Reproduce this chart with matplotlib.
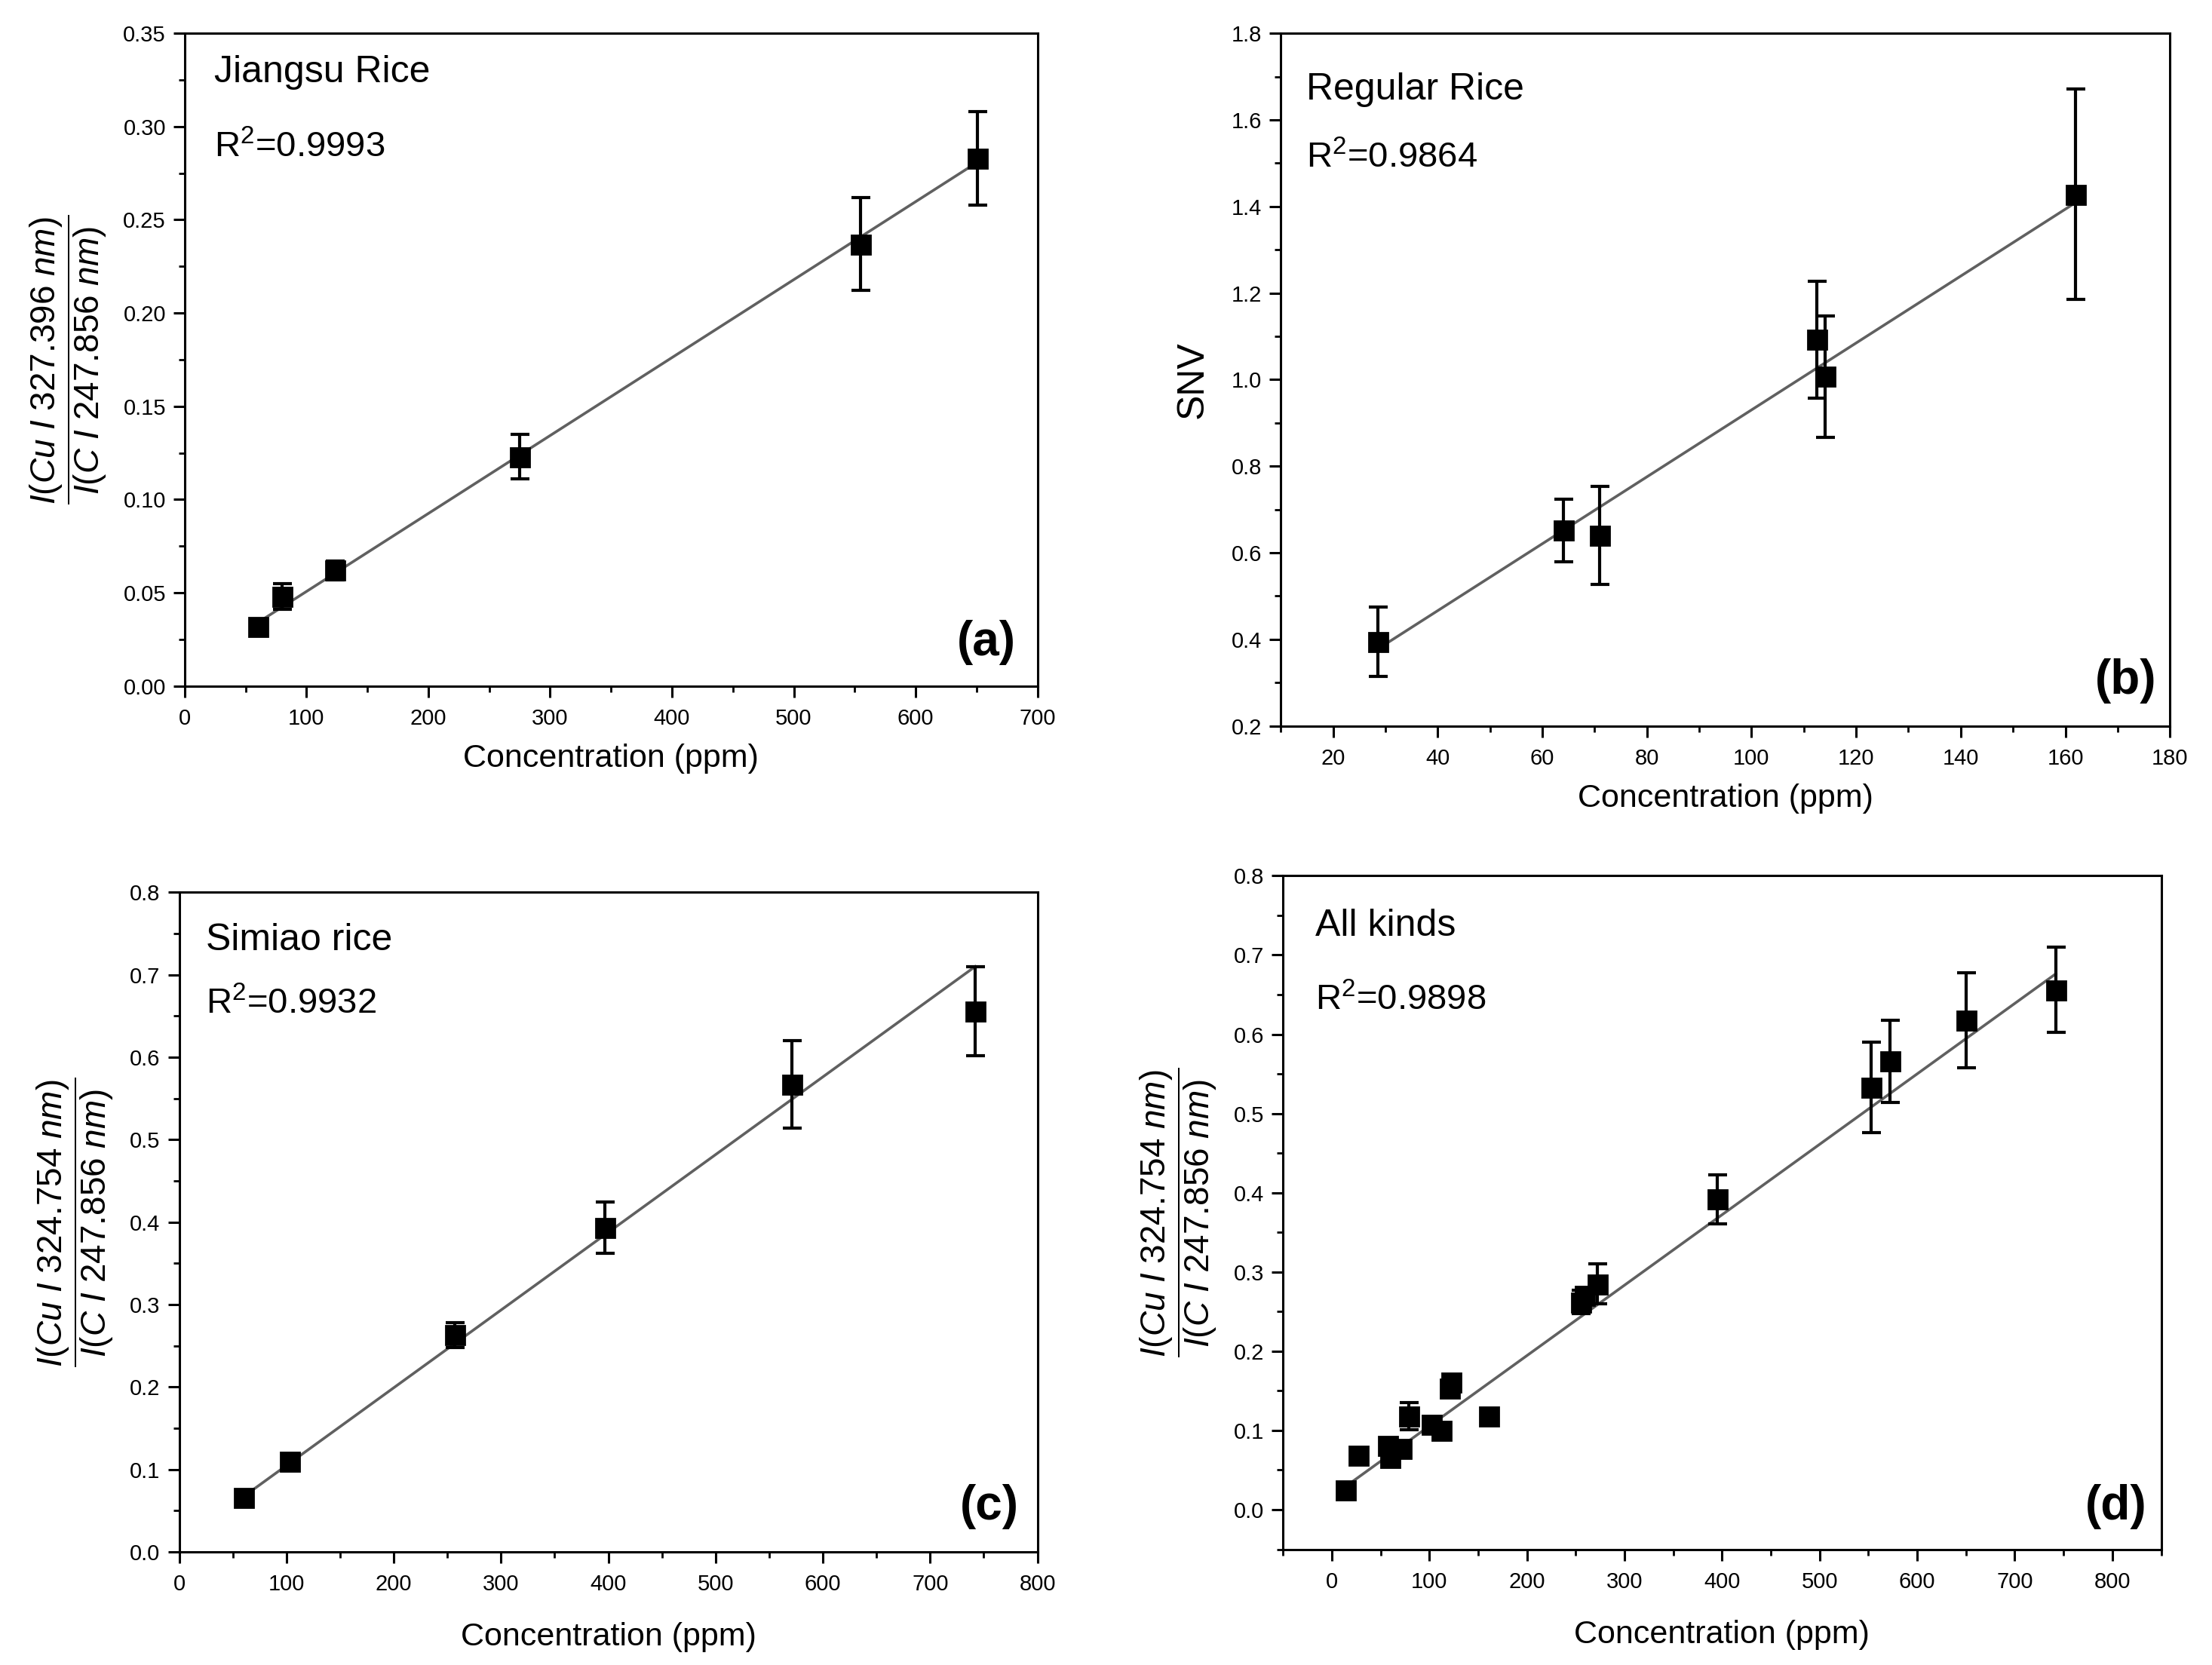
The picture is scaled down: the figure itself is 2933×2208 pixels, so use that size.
import numpy as np
import matplotlib
matplotlib.use('Agg')
import matplotlib.pyplot as plt
from matplotlib.ticker import MultipleLocator, FormatStrFormatter

plt.rcParams['font.family'] = ['Liberation Sans', 'DejaVu Sans']
plt.rcParams['mathtext.fontset'] = 'custom'
plt.rcParams['mathtext.rm'] = 'Liberation Sans'
plt.rcParams['mathtext.it'] = 'Liberation Sans:italic'
plt.rcParams['mathtext.bf'] = 'Liberation Sans:bold'

# (a) Jiangsu rice
conc_a = [60, 80, 123, 275, 555, 651]
ratio_a = [0.032, 0.048, 0.062, 0.123, 0.237, 0.283]
err_a = [0.003, 0.007, 0.005, 0.012, 0.025, 0.025]
fit_a = (0.000418, 0.0089)

# (b) regular rice
conc_b = [28.5, 64, 71, 112.5, 114, 162]
snv_b = [0.395, 0.652, 0.640, 1.093, 1.007, 1.428]
err_b = [0.080, 0.072, 0.113, 0.135, 0.140, 0.243]
fit_b = (0.00773, 0.157)

# (c) Simiao rice
conc_c = [60, 103, 257, 397, 571, 742]
ratio_c = [0.066, 0.110, 0.263, 0.393, 0.567, 0.656]
err_c = [0.004, 0.005, 0.015, 0.031, 0.053, 0.054]
fit_c = (0.000943, 0.0104)

# (d) all kinds
conc_d = [14, 27, 57, 60, 71, 79, 102, 112, 121, 122, 161, 255, 259, 272, 395, 553, 572, 650, 742]
ratio_d = [0.025, 0.069, 0.081, 0.066, 0.077, 0.118, 0.108, 0.100, 0.153, 0.161, 0.118,
           0.262, 0.270, 0.285, 0.392, 0.533, 0.566, 0.618, 0.656]
err_d = [0.003, 0.004, 0.005, 0.005, 0.004, 0.017, 0.004, 0.004, 0.005, 0.005, 0.006,
         0.015, 0.006, 0.025, 0.031, 0.057, 0.052, 0.060, 0.054]
fit_d = (0.000889, 0.0166)

ylab_a = r'$\dfrac{\mathit{I(Cu\ I\ 327.396\ nm)}}{\mathit{I(C\ I\ 247.856\ nm)}}$'
ylab_c = r'$\dfrac{\mathit{I(Cu\ I\ 324.754\ nm)}}{\mathit{I(C\ I\ 247.856\ nm)}}$'

fig = plt.figure(figsize=(14.665, 11.04), dpi=200)

panels = [
    dict(rect=[0.0835, 0.588, 0.3855, 0.392], x=conc_a, y=ratio_a, e=err_a, fit=fit_a,
         xlim=(0, 700), ylim=(0, 0.35), xmaj=100, xmin=50, ymaj=0.05, ymin=0.025, yfmt='%.2f',
         name='Jiangsu Rice', r2='0.9993', tag='(a)', ylabel=ylab_a, xpad=7,
         tpos=(0.035, 0.94, 0.825, 0.975, 0.067)),
    dict(rect=[0.579, 0.564, 0.402, 0.416], x=conc_b, y=snv_b, e=err_b, fit=fit_b,
         xlim=(10, 180), ylim=(0.2, 1.8), xmaj=20, xmin=10, ymaj=0.2, ymin=0.1, yfmt='%.1f',
         name='Regular Rice', r2='0.9864', tag='(b)', ylabel='SNV', xpad=7,
         tpos=(0.029, 0.918, 0.82, 0.985, 0.065)),
    dict(rect=[0.081, 0.068, 0.388, 0.396], x=conc_c, y=ratio_c, e=err_c, fit=fit_c,
         xlim=(0, 800), ylim=(0, 0.8), xmaj=100, xmin=50, ymaj=0.1, ymin=0.05, yfmt='%.1f',
         name='Simiao rice', r2='0.9932', tag='(c)', ylabel=ylab_c, xpad=13,
         tpos=(0.031, 0.927, 0.83, 0.978, 0.069)),
    dict(rect=[0.580, 0.0695, 0.397, 0.4045], x=conc_d, y=ratio_d, e=err_d, fit=fit_d,
         xlim=(-50, 850), ylim=(-0.05, 0.8), xmaj=100, xmin=50, ymaj=0.1, ymin=0.05, yfmt='%.1f',
         name='All kinds', r2='0.9898', tag='(d)', ylabel=ylab_c, xpad=13,
         tpos=(0.037, 0.925, 0.815, 0.984, 0.063)),
]

for p in panels:
    ax = fig.add_axes(p['rect'])
    x = np.array(p['x'])
    xs = np.array([x.min(), x.max()])
    slope, icpt = p['fit']
    ax.plot(xs, slope * xs + icpt, color='#606060', lw=1.3, zorder=2)
    ax.errorbar(x, p['y'], yerr=p['e'], fmt='s', color='black', ms=9,
                ecolor='black', elinewidth=1.5, capsize=4.5, capthick=1.5, zorder=3)
    ax.set_xlim(*p['xlim'])
    ax.set_ylim(*p['ylim'])
    ax.xaxis.set_major_locator(MultipleLocator(p['xmaj']))
    ax.xaxis.set_minor_locator(MultipleLocator(p['xmin']))
    ax.yaxis.set_major_locator(MultipleLocator(p['ymaj']))
    ax.yaxis.set_minor_locator(MultipleLocator(p['ymin']))
    ax.yaxis.set_major_formatter(FormatStrFormatter(p['yfmt']))
    if p['tag'] == '(d)':
        ax.set_yticks(np.arange(0, 0.81, 0.1))
    ax.tick_params(which='both', direction='out', top=False, right=False, labelsize=10.5)
    ax.tick_params(axis='x', which='major', pad=5)
    ax.tick_params(which='major', length=5.5, width=1.1)
    ax.tick_params(which='minor', length=3, width=1.0)
    for s in ax.spines.values():
        s.set_linewidth(1.1)
    ax.set_xlabel('Concentration (ppm)', fontsize=15.5, labelpad=p['xpad'])
    if p['ylabel'] == 'SNV':
        ax.set_ylabel(p['ylabel'], fontsize=18, labelpad=10)
    else:
        ax.set_ylabel(p['ylabel'], fontsize=16.5, labelpad=7)
    tx, ty1, ty2, bx, by = p['tpos']
    ax.text(tx, ty1, p['name'], transform=ax.transAxes, fontsize=18, va='center')
    ax.text(tx, ty2, 'R$^2$=' + p['r2'], transform=ax.transAxes, fontsize=17, va='center')
    ax.text(bx, by, p['tag'], transform=ax.transAxes, fontsize=23, fontweight='bold',
            ha='right', va='center')

fig.savefig('out.png', dpi=200)
